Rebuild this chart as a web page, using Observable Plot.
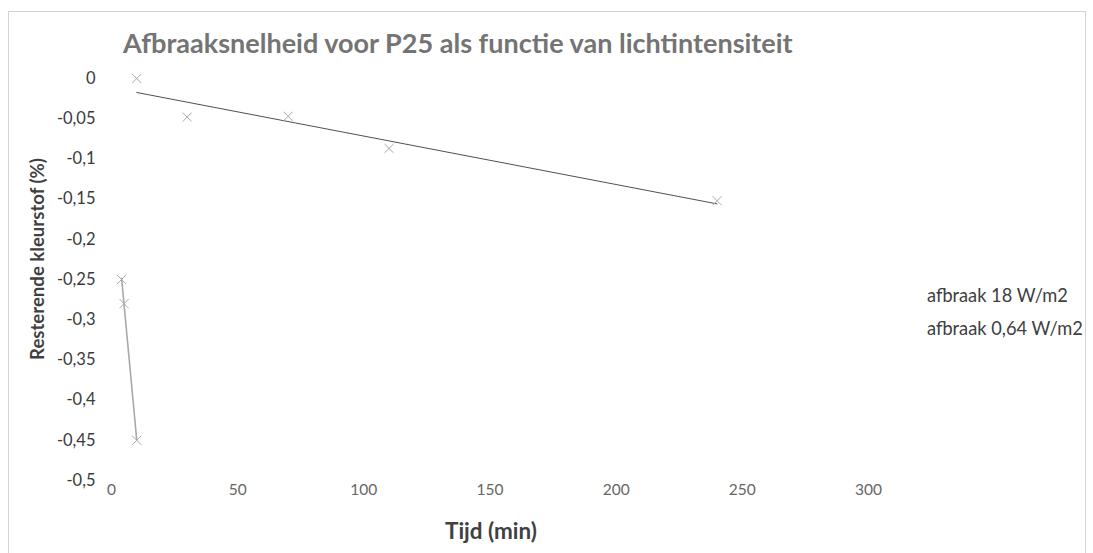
<!DOCTYPE html>
<html><head><meta charset="utf-8">
<script src="https://cdn.jsdelivr.net/npm/d3@7"></script>
<script src="https://cdn.jsdelivr.net/npm/@observablehq/plot@0.6"></script>
<style>
body{margin:0;background:#fff;font-family:Lato,"Open Sans",sans-serif}
#wrap{position:relative;width:1093px;height:553px;overflow:hidden;background:#fff}
#frame{position:absolute;left:8px;top:11px;width:1078px;height:600px;border:1px solid #d4d4d4;box-sizing:border-box}
#chart{position:absolute;left:0;top:0}
#overlay{position:absolute;left:0;top:0}
</style>
</head><body>
<div id="wrap"><div id="frame"></div><div id="chart"></div><svg id="overlay" width="1093" height="553"></svg></div>
<script>
// ---- data ----
const titleText = "Afbraaksnelheid voor P25 als functie van lichtintensiteit";
const xLabel = "Tijd (min)";
const yLabel = "Resterende kleurstof (%)";
const seriesNames = ["afbraak 18 W/m2", "afbraak 0,64 W/m2"];
const tijd18 = [4, 5, 10];
const rest18 = [-0.25, -0.28, -0.45];
const tijd064 = [10, 30, 70, 110, 240];
const rest064 = [0, -0.048, -0.047, -0.087, -0.152];
const xTicks = [0, 50, 100, 150, 200, 250, 300];
const yTicks = [0, -0.05, -0.1, -0.15, -0.2, -0.25, -0.3, -0.35, -0.4, -0.45, -0.5];

const d18 = tijd18.map((t, i) => ({t, r: rest18[i]}));
const d064 = tijd064.map((t, i) => ({t, r: rest064[i]}));
const fmt = d => d === 0 ? "0" : String(+d.toFixed(2)).replace(".", ",");

const plot = Plot.plot({
  width: 1093, height: 553,
  marginLeft: 111, marginRight: 225, marginTop: 78, marginBottom: 73,
  style: {fontFamily: "Lato, 'Open Sans', sans-serif", background: "transparent", overflow: "visible"},
  x: {domain: [0, 300]},
  y: {domain: [-0.5, 0]},
  marks: [
    Plot.axisY({ticks: yTicks, tickSize: 0, tickPadding: 16, tickFormat: fmt, fontSize: 16.5, color: "#3a3a3a", label: null}),
    Plot.axisX({ticks: xTicks, tickSize: 0, tickPadding: 3, fontSize: 15.5, color: "#666", label: null}),
    Plot.linearRegressionY(d064, {x: "t", y: "r", ci: 0, stroke: "#505050", strokeWidth: 1}),
    Plot.linearRegressionY(d18, {x: "t", y: "r", ci: 0, stroke: "#a8a8a8", strokeWidth: 1.6}),
    Plot.dot(d064, {x: "t", y: "r", symbol: "times", r: 4.2, stroke: "#aaa", strokeWidth: 1}),
    Plot.dot(d18, {x: "t", y: "r", symbol: "times", r: 4.2, stroke: "#aaa", strokeWidth: 1})
  ]
});
document.getElementById("chart").appendChild(plot);

const ov = d3.select("#overlay").style("font-family", "Lato, 'Open Sans', sans-serif");
function fit(sel, base, target) {
  const w = sel.node().getComputedTextLength();
  if (w > 0) sel.attr("font-size", base * target / w);
  return sel;
}
fit(ov.append("text").attr("x", 123).attr("y", 53)
  .attr("font-weight", "bold").attr("font-size", 24).attr("fill", "#747474").text(titleText), 24, 670);

fit(ov.append("text").attr("transform", "translate(37,259) rotate(-90)")
  .attr("text-anchor", "middle").attr("dominant-baseline", "central")
  .attr("font-weight", "bold").attr("font-size", 17).attr("fill", "#404040").text(yLabel), 17, 202);
fit(ov.append("text").attr("x", 491).attr("y", 530)
  .attr("text-anchor", "middle").attr("dominant-baseline", "central")
  .attr("font-weight", "bold").attr("font-size", 17).attr("fill", "#404040").text(xLabel), 17, 92);

const legY = [295, 328];
const legW = [141, 156];
seriesNames.forEach((name, i) => {
  fit(ov.append("text").attr("x", 927).attr("y", legY[i])
    .attr("dominant-baseline", "central").attr("font-size", 15).attr("fill", "#404040").text(name), 15, legW[i]);
});
</script>
</body></html>
